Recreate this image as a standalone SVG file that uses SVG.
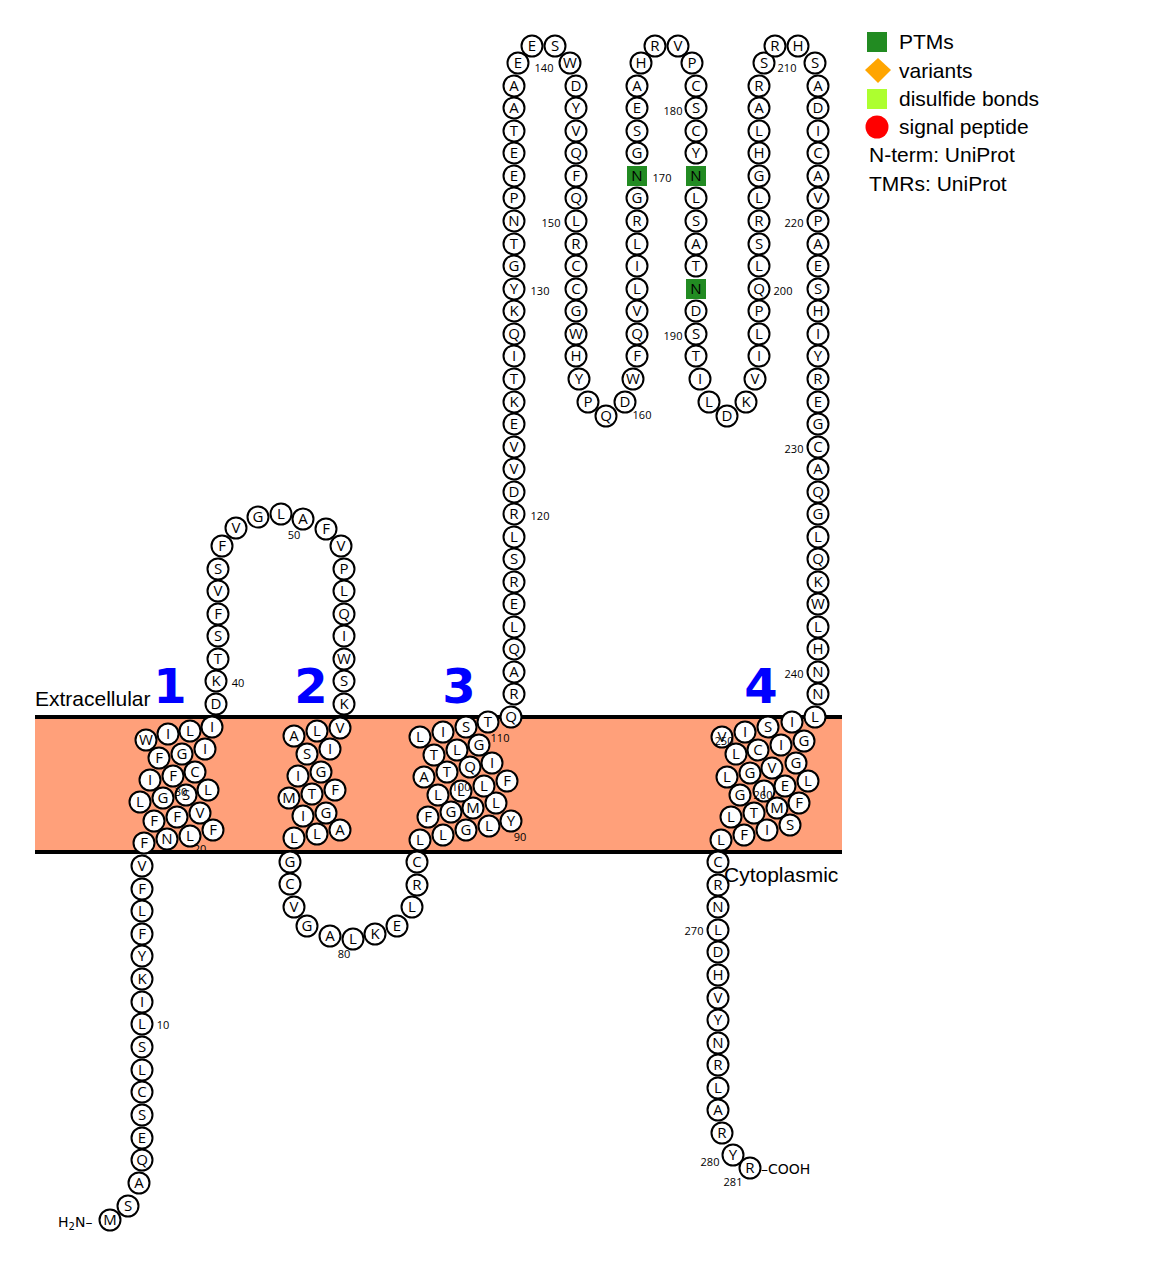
<svg xmlns="http://www.w3.org/2000/svg" width="1174" height="1266" viewBox="0 0 1174 1266">
<style>
.r circle{fill:#fff;stroke:#000;stroke-width:2}
.r rect{fill:#228B22;stroke:none}
.r text{font-family:"Open Sans","DejaVu Sans",sans-serif;font-size:15px;text-anchor:middle}
.n{font-family:"Open Sans","DejaVu Sans",sans-serif;font-size:11px;text-anchor:middle}
.l{font-family:"Liberation Sans",Arial,sans-serif;font-size:21px}
.tm{font-family:"DejaVu Sans",sans-serif;font-size:48px;font-weight:bold;fill:#0000FF;text-anchor:middle}
.t{font-family:"DejaVu Sans",sans-serif;font-size:14px}
</style>
<rect width="1174" height="1266" fill="#fff"/>
<g id="membrane">
<rect x="35" y="717" width="807" height="135" fill="#FFA07A"/>
<line x1="35" y1="717" x2="842" y2="717" stroke="#000" stroke-width="4"/>
<line x1="35" y1="852" x2="842" y2="852" stroke="#000" stroke-width="4"/>
</g>
<g id="connectors"></g>
<g id="residues" class="r">
<g id="r1"><circle cx="110" cy="1220" r="10.5"/><text x="110" y="1225">M</text></g>
<g id="r2"><circle cx="128" cy="1206" r="10.5"/><text x="128" y="1211">S</text></g>
<g id="r3"><circle cx="139" cy="1183" r="10.5"/><text x="139" y="1188">A</text></g>
<g id="r4"><circle cx="142" cy="1160" r="10.5"/><text x="142" y="1165">Q</text></g>
<g id="r5"><circle cx="142" cy="1138" r="10.5"/><text x="142" y="1143">E</text></g>
<g id="r6"><circle cx="142" cy="1115" r="10.5"/><text x="142" y="1120">S</text></g>
<g id="r7"><circle cx="142" cy="1092" r="10.5"/><text x="142" y="1097">C</text></g>
<g id="r8"><circle cx="142" cy="1070" r="10.5"/><text x="142" y="1075">L</text></g>
<g id="r9"><circle cx="142" cy="1047" r="10.5"/><text x="142" y="1052">S</text></g>
<g id="r10"><circle cx="142" cy="1024" r="10.5"/><text x="142" y="1029">L</text></g>
<g id="r11"><circle cx="142" cy="1002" r="10.5"/><text x="142" y="1007">I</text></g>
<g id="r12"><circle cx="142" cy="979" r="10.5"/><text x="142" y="984">K</text></g>
<g id="r13"><circle cx="142" cy="956" r="10.5"/><text x="142" y="961">Y</text></g>
<g id="r14"><circle cx="142" cy="934" r="10.5"/><text x="142" y="939">F</text></g>
<g id="r15"><circle cx="142" cy="911" r="10.5"/><text x="142" y="916">L</text></g>
<g id="r16"><circle cx="142" cy="889" r="10.5"/><text x="142" y="894">F</text></g>
<g id="r17"><circle cx="142" cy="866" r="10.5"/><text x="142" y="871">V</text></g>
<g id="r18"><circle cx="144" cy="843" r="10.5"/><text x="144" y="848">F</text></g>
<g id="r19"><circle cx="167" cy="839" r="10.5"/><text x="167" y="844">N</text></g>
<g id="r20"><circle cx="190" cy="836" r="10.5"/><text x="190" y="841">L</text></g>
<g id="r21"><circle cx="213" cy="830" r="10.5"/><text x="213" y="835">F</text></g>
<g id="r22"><circle cx="200" cy="813" r="10.5"/><text x="200" y="818">V</text></g>
<g id="r23"><circle cx="177" cy="817" r="10.5"/><text x="177" y="822">F</text></g>
<g id="r24"><circle cx="154" cy="821" r="10.5"/><text x="154" y="826">F</text></g>
<g id="r25"><circle cx="140" cy="802" r="10.5"/><text x="140" y="807">L</text></g>
<g id="r26"><circle cx="163" cy="798" r="10.5"/><text x="163" y="803">G</text></g>
<g id="r27"><circle cx="186" cy="795" r="10.5"/><text x="186" y="800">S</text></g>
<g id="r28"><circle cx="208" cy="790" r="10.5"/><text x="208" y="795">L</text></g>
<g id="r29"><circle cx="150" cy="780" r="10.5"/><text x="150" y="785">I</text></g>
<g id="r30"><circle cx="173" cy="776" r="10.5"/><text x="173" y="781">F</text></g>
<g id="r31"><circle cx="195" cy="772" r="10.5"/><text x="195" y="777">C</text></g>
<g id="r32"><circle cx="159" cy="758" r="10.5"/><text x="159" y="763">F</text></g>
<g id="r33"><circle cx="182" cy="754" r="10.5"/><text x="182" y="759">G</text></g>
<g id="r34"><circle cx="205" cy="749" r="10.5"/><text x="205" y="754">I</text></g>
<g id="r35"><circle cx="146" cy="740" r="10.5"/><text x="146" y="745">W</text></g>
<g id="r36"><circle cx="168" cy="734" r="10.5"/><text x="168" y="739">I</text></g>
<g id="r37"><circle cx="190" cy="731" r="10.5"/><text x="190" y="736">L</text></g>
<g id="r38"><circle cx="212" cy="727" r="10.5"/><text x="212" y="732">I</text></g>
<g id="r39"><circle cx="216" cy="704" r="10.5"/><text x="216" y="709">D</text></g>
<g id="r40"><circle cx="216" cy="681" r="10.5"/><text x="216" y="686">K</text></g>
<g id="r41"><circle cx="218" cy="659" r="10.5"/><text x="218" y="664">T</text></g>
<g id="r42"><circle cx="218" cy="636" r="10.5"/><text x="218" y="641">S</text></g>
<g id="r43"><circle cx="218" cy="614" r="10.5"/><text x="218" y="619">F</text></g>
<g id="r44"><circle cx="218" cy="591" r="10.5"/><text x="218" y="596">V</text></g>
<g id="r45"><circle cx="218" cy="569" r="10.5"/><text x="218" y="574">S</text></g>
<g id="r46"><circle cx="222" cy="546" r="10.5"/><text x="222" y="551">F</text></g>
<g id="r47"><circle cx="236" cy="528" r="10.5"/><text x="236" y="533">V</text></g>
<g id="r48"><circle cx="258" cy="517" r="10.5"/><text x="258" y="522">G</text></g>
<g id="r49"><circle cx="281" cy="514" r="10.5"/><text x="281" y="519">L</text></g>
<g id="r50"><circle cx="303" cy="519" r="10.5"/><text x="303" y="524">A</text></g>
<g id="r51"><circle cx="326" cy="529" r="10.5"/><text x="326" y="534">F</text></g>
<g id="r52"><circle cx="341" cy="546" r="10.5"/><text x="341" y="551">V</text></g>
<g id="r53"><circle cx="344" cy="569" r="10.5"/><text x="344" y="574">P</text></g>
<g id="r54"><circle cx="344" cy="591" r="10.5"/><text x="344" y="596">L</text></g>
<g id="r55"><circle cx="344" cy="614" r="10.5"/><text x="344" y="619">Q</text></g>
<g id="r56"><circle cx="344" cy="636" r="10.5"/><text x="344" y="641">I</text></g>
<g id="r57"><circle cx="344" cy="659" r="10.5"/><text x="344" y="664">W</text></g>
<g id="r58"><circle cx="344" cy="681" r="10.5"/><text x="344" y="686">S</text></g>
<g id="r59"><circle cx="344" cy="704" r="10.5"/><text x="344" y="709">K</text></g>
<g id="r60"><circle cx="340" cy="728" r="10.5"/><text x="340" y="733">V</text></g>
<g id="r61"><circle cx="317" cy="731" r="10.5"/><text x="317" y="736">L</text></g>
<g id="r62"><circle cx="294" cy="736" r="10.5"/><text x="294" y="741">A</text></g>
<g id="r63"><circle cx="307" cy="754" r="10.5"/><text x="307" y="759">S</text></g>
<g id="r64"><circle cx="330" cy="749" r="10.5"/><text x="330" y="754">I</text></g>
<g id="r65"><circle cx="298" cy="776" r="10.5"/><text x="298" y="781">I</text></g>
<g id="r66"><circle cx="321" cy="772" r="10.5"/><text x="321" y="777">G</text></g>
<g id="r67"><circle cx="289" cy="798" r="10.5"/><text x="289" y="803">M</text></g>
<g id="r68"><circle cx="312" cy="794" r="10.5"/><text x="312" y="799">T</text></g>
<g id="r69"><circle cx="335" cy="790" r="10.5"/><text x="335" y="795">F</text></g>
<g id="r70"><circle cx="303" cy="816" r="10.5"/><text x="303" y="821">I</text></g>
<g id="r71"><circle cx="326" cy="813" r="10.5"/><text x="326" y="818">G</text></g>
<g id="r72"><circle cx="294" cy="838" r="10.5"/><text x="294" y="843">L</text></g>
<g id="r73"><circle cx="317" cy="834" r="10.5"/><text x="317" y="839">L</text></g>
<g id="r74"><circle cx="340" cy="830" r="10.5"/><text x="340" y="835">A</text></g>
<g id="r75"><circle cx="290" cy="862" r="10.5"/><text x="290" y="867">G</text></g>
<g id="r76"><circle cx="290" cy="884" r="10.5"/><text x="290" y="889">C</text></g>
<g id="r77"><circle cx="294" cy="907" r="10.5"/><text x="294" y="912">V</text></g>
<g id="r78"><circle cx="307" cy="926" r="10.5"/><text x="307" y="931">G</text></g>
<g id="r79"><circle cx="330" cy="936" r="10.5"/><text x="330" y="941">A</text></g>
<g id="r80"><circle cx="353" cy="939" r="10.5"/><text x="353" y="944">L</text></g>
<g id="r81"><circle cx="375" cy="934" r="10.5"/><text x="375" y="939">K</text></g>
<g id="r82"><circle cx="397" cy="926" r="10.5"/><text x="397" y="931">E</text></g>
<g id="r83"><circle cx="412" cy="907" r="10.5"/><text x="412" y="912">L</text></g>
<g id="r84"><circle cx="417" cy="885" r="10.5"/><text x="417" y="890">R</text></g>
<g id="r85"><circle cx="417" cy="862" r="10.5"/><text x="417" y="867">C</text></g>
<g id="r86"><circle cx="420" cy="840" r="10.5"/><text x="420" y="845">L</text></g>
<g id="r87"><circle cx="443" cy="835" r="10.5"/><text x="443" y="840">L</text></g>
<g id="r88"><circle cx="466" cy="830" r="10.5"/><text x="466" y="835">G</text></g>
<g id="r89"><circle cx="489" cy="826" r="10.5"/><text x="489" y="831">L</text></g>
<g id="r90"><circle cx="511" cy="821" r="10.5"/><text x="511" y="826">Y</text></g>
<g id="r91"><circle cx="428" cy="817" r="10.5"/><text x="428" y="822">F</text></g>
<g id="r92"><circle cx="451" cy="812" r="10.5"/><text x="451" y="817">G</text></g>
<g id="r93"><circle cx="473" cy="808" r="10.5"/><text x="473" y="813">M</text></g>
<g id="r94"><circle cx="496" cy="803" r="10.5"/><text x="496" y="808">L</text></g>
<g id="r95"><circle cx="438" cy="795" r="10.5"/><text x="438" y="800">L</text></g>
<g id="r96"><circle cx="461" cy="791" r="10.5"/><text x="461" y="796">L</text></g>
<g id="r97"><circle cx="484" cy="786" r="10.5"/><text x="484" y="791">L</text></g>
<g id="r98"><circle cx="507" cy="781" r="10.5"/><text x="507" y="786">F</text></g>
<g id="r99"><circle cx="424" cy="777" r="10.5"/><text x="424" y="782">A</text></g>
<g id="r100"><circle cx="447" cy="772" r="10.5"/><text x="447" y="777">T</text></g>
<g id="r101"><circle cx="470" cy="767" r="10.5"/><text x="470" y="772">Q</text></g>
<g id="r102"><circle cx="492" cy="763" r="10.5"/><text x="492" y="768">I</text></g>
<g id="r103"><circle cx="434" cy="755" r="10.5"/><text x="434" y="760">T</text></g>
<g id="r104"><circle cx="457" cy="750" r="10.5"/><text x="457" y="755">L</text></g>
<g id="r105"><circle cx="479" cy="745" r="10.5"/><text x="479" y="750">G</text></g>
<g id="r106"><circle cx="420" cy="737" r="10.5"/><text x="420" y="742">L</text></g>
<g id="r107"><circle cx="443" cy="732" r="10.5"/><text x="443" y="737">I</text></g>
<g id="r108"><circle cx="466" cy="727" r="10.5"/><text x="466" y="732">S</text></g>
<g id="r109"><circle cx="488" cy="722" r="10.5"/><text x="488" y="727">T</text></g>
<g id="r110"><circle cx="511" cy="717" r="10.5"/><text x="511" y="722">Q</text></g>
<g id="r111"><circle cx="514" cy="694" r="10.5"/><text x="514" y="699">R</text></g>
<g id="r112"><circle cx="514" cy="672" r="10.5"/><text x="514" y="677">A</text></g>
<g id="r113"><circle cx="514" cy="649" r="10.5"/><text x="514" y="654">Q</text></g>
<g id="r114"><circle cx="514" cy="627" r="10.5"/><text x="514" y="632">L</text></g>
<g id="r115"><circle cx="514" cy="604" r="10.5"/><text x="514" y="609">E</text></g>
<g id="r116"><circle cx="514" cy="582" r="10.5"/><text x="514" y="587">R</text></g>
<g id="r117"><circle cx="514" cy="559" r="10.5"/><text x="514" y="564">S</text></g>
<g id="r118"><circle cx="514" cy="537" r="10.5"/><text x="514" y="542">L</text></g>
<g id="r119"><circle cx="514" cy="514" r="10.5"/><text x="514" y="519">R</text></g>
<g id="r120"><circle cx="514" cy="492" r="10.5"/><text x="514" y="497">D</text></g>
<g id="r121"><circle cx="514" cy="469" r="10.5"/><text x="514" y="474">V</text></g>
<g id="r122"><circle cx="514" cy="447" r="10.5"/><text x="514" y="452">V</text></g>
<g id="r123"><circle cx="514" cy="424" r="10.5"/><text x="514" y="429">E</text></g>
<g id="r124"><circle cx="514" cy="402" r="10.5"/><text x="514" y="407">K</text></g>
<g id="r125"><circle cx="514" cy="379" r="10.5"/><text x="514" y="384">T</text></g>
<g id="r126"><circle cx="514" cy="356" r="10.5"/><text x="514" y="361">I</text></g>
<g id="r127"><circle cx="514" cy="334" r="10.5"/><text x="514" y="339">Q</text></g>
<g id="r128"><circle cx="514" cy="311" r="10.5"/><text x="514" y="316">K</text></g>
<g id="r129"><circle cx="514" cy="289" r="10.5"/><text x="514" y="294">Y</text></g>
<g id="r130"><circle cx="514" cy="266" r="10.5"/><text x="514" y="271">G</text></g>
<g id="r131"><circle cx="514" cy="244" r="10.5"/><text x="514" y="249">T</text></g>
<g id="r132"><circle cx="514" cy="221" r="10.5"/><text x="514" y="226">N</text></g>
<g id="r133"><circle cx="514" cy="198" r="10.5"/><text x="514" y="203">P</text></g>
<g id="r134"><circle cx="514" cy="176" r="10.5"/><text x="514" y="181">E</text></g>
<g id="r135"><circle cx="514" cy="153" r="10.5"/><text x="514" y="158">E</text></g>
<g id="r136"><circle cx="514" cy="131" r="10.5"/><text x="514" y="136">T</text></g>
<g id="r137"><circle cx="514" cy="108" r="10.5"/><text x="514" y="113">A</text></g>
<g id="r138"><circle cx="514" cy="86" r="10.5"/><text x="514" y="91">A</text></g>
<g id="r139"><circle cx="518" cy="63" r="10.5"/><text x="518" y="68">E</text></g>
<g id="r140"><circle cx="532" cy="46" r="10.5"/><text x="532" y="51">E</text></g>
<g id="r141"><circle cx="555" cy="46" r="10.5"/><text x="555" y="51">S</text></g>
<g id="r142"><circle cx="570" cy="63" r="10.5"/><text x="570" y="68">W</text></g>
<g id="r143"><circle cx="576" cy="86" r="10.5"/><text x="576" y="91">D</text></g>
<g id="r144"><circle cx="576" cy="108" r="10.5"/><text x="576" y="113">Y</text></g>
<g id="r145"><circle cx="576" cy="131" r="10.5"/><text x="576" y="136">V</text></g>
<g id="r146"><circle cx="576" cy="153" r="10.5"/><text x="576" y="158">Q</text></g>
<g id="r147"><circle cx="576" cy="176" r="10.5"/><text x="576" y="181">F</text></g>
<g id="r148"><circle cx="576" cy="198" r="10.5"/><text x="576" y="203">Q</text></g>
<g id="r149"><circle cx="576" cy="221" r="10.5"/><text x="576" y="226">L</text></g>
<g id="r150"><circle cx="576" cy="244" r="10.5"/><text x="576" y="249">R</text></g>
<g id="r151"><circle cx="576" cy="266" r="10.5"/><text x="576" y="271">C</text></g>
<g id="r152"><circle cx="576" cy="289" r="10.5"/><text x="576" y="294">C</text></g>
<g id="r153"><circle cx="576" cy="311" r="10.5"/><text x="576" y="316">G</text></g>
<g id="r154"><circle cx="576" cy="334" r="10.5"/><text x="576" y="339">W</text></g>
<g id="r155"><circle cx="576" cy="356" r="10.5"/><text x="576" y="361">H</text></g>
<g id="r156"><circle cx="579" cy="379" r="10.5"/><text x="579" y="384">Y</text></g>
<g id="r157"><circle cx="588" cy="402" r="10.5"/><text x="588" y="407">P</text></g>
<g id="r158"><circle cx="606" cy="416" r="10.5"/><text x="606" y="421">Q</text></g>
<g id="r159"><circle cx="625" cy="402" r="10.5"/><text x="625" y="407">D</text></g>
<g id="r160"><circle cx="633" cy="379" r="10.5"/><text x="633" y="384">W</text></g>
<g id="r161"><circle cx="637" cy="356" r="10.5"/><text x="637" y="361">F</text></g>
<g id="r162"><circle cx="637" cy="334" r="10.5"/><text x="637" y="339">Q</text></g>
<g id="r163"><circle cx="637" cy="311" r="10.5"/><text x="637" y="316">V</text></g>
<g id="r164"><circle cx="637" cy="289" r="10.5"/><text x="637" y="294">L</text></g>
<g id="r165"><circle cx="637" cy="266" r="10.5"/><text x="637" y="271">I</text></g>
<g id="r166"><circle cx="637" cy="244" r="10.5"/><text x="637" y="249">L</text></g>
<g id="r167"><circle cx="637" cy="221" r="10.5"/><text x="637" y="226">R</text></g>
<g id="r168"><circle cx="637" cy="198" r="10.5"/><text x="637" y="203">G</text></g>
<g id="r169"><rect x="627" y="166" width="20" height="20"/><text x="637" y="181">N</text></g>
<g id="r170"><circle cx="637" cy="153" r="10.5"/><text x="637" y="158">G</text></g>
<g id="r171"><circle cx="637" cy="131" r="10.5"/><text x="637" y="136">S</text></g>
<g id="r172"><circle cx="637" cy="108" r="10.5"/><text x="637" y="113">E</text></g>
<g id="r173"><circle cx="637" cy="86" r="10.5"/><text x="637" y="91">A</text></g>
<g id="r174"><circle cx="641" cy="63" r="10.5"/><text x="641" y="68">H</text></g>
<g id="r175"><circle cx="655" cy="46" r="10.5"/><text x="655" y="51">R</text></g>
<g id="r176"><circle cx="678" cy="46" r="10.5"/><text x="678" y="51">V</text></g>
<g id="r177"><circle cx="692" cy="63" r="10.5"/><text x="692" y="68">P</text></g>
<g id="r178"><circle cx="696" cy="86" r="10.5"/><text x="696" y="91">C</text></g>
<g id="r179"><circle cx="696" cy="108" r="10.5"/><text x="696" y="113">S</text></g>
<g id="r180"><circle cx="696" cy="131" r="10.5"/><text x="696" y="136">C</text></g>
<g id="r181"><circle cx="696" cy="153" r="10.5"/><text x="696" y="158">Y</text></g>
<g id="r182"><rect x="686" y="166" width="20" height="20"/><text x="696" y="181">N</text></g>
<g id="r183"><circle cx="696" cy="198" r="10.5"/><text x="696" y="203">L</text></g>
<g id="r184"><circle cx="696" cy="221" r="10.5"/><text x="696" y="226">S</text></g>
<g id="r185"><circle cx="696" cy="244" r="10.5"/><text x="696" y="249">A</text></g>
<g id="r186"><circle cx="696" cy="266" r="10.5"/><text x="696" y="271">T</text></g>
<g id="r187"><rect x="686" y="279" width="20" height="20"/><text x="696" y="294">N</text></g>
<g id="r188"><circle cx="696" cy="311" r="10.5"/><text x="696" y="316">D</text></g>
<g id="r189"><circle cx="696" cy="334" r="10.5"/><text x="696" y="339">S</text></g>
<g id="r190"><circle cx="696" cy="356" r="10.5"/><text x="696" y="361">T</text></g>
<g id="r191"><circle cx="700" cy="379" r="10.5"/><text x="700" y="384">I</text></g>
<g id="r192"><circle cx="709" cy="402" r="10.5"/><text x="709" y="407">L</text></g>
<g id="r193"><circle cx="727" cy="416" r="10.5"/><text x="727" y="421">D</text></g>
<g id="r194"><circle cx="746" cy="402" r="10.5"/><text x="746" y="407">K</text></g>
<g id="r195"><circle cx="755" cy="379" r="10.5"/><text x="755" y="384">V</text></g>
<g id="r196"><circle cx="759" cy="356" r="10.5"/><text x="759" y="361">I</text></g>
<g id="r197"><circle cx="759" cy="334" r="10.5"/><text x="759" y="339">L</text></g>
<g id="r198"><circle cx="759" cy="311" r="10.5"/><text x="759" y="316">P</text></g>
<g id="r199"><circle cx="759" cy="289" r="10.5"/><text x="759" y="294">Q</text></g>
<g id="r200"><circle cx="759" cy="266" r="10.5"/><text x="759" y="271">L</text></g>
<g id="r201"><circle cx="759" cy="244" r="10.5"/><text x="759" y="249">S</text></g>
<g id="r202"><circle cx="759" cy="221" r="10.5"/><text x="759" y="226">R</text></g>
<g id="r203"><circle cx="759" cy="198" r="10.5"/><text x="759" y="203">L</text></g>
<g id="r204"><circle cx="759" cy="176" r="10.5"/><text x="759" y="181">G</text></g>
<g id="r205"><circle cx="759" cy="153" r="10.5"/><text x="759" y="158">H</text></g>
<g id="r206"><circle cx="759" cy="131" r="10.5"/><text x="759" y="136">L</text></g>
<g id="r207"><circle cx="759" cy="108" r="10.5"/><text x="759" y="113">A</text></g>
<g id="r208"><circle cx="759" cy="86" r="10.5"/><text x="759" y="91">R</text></g>
<g id="r209"><circle cx="764" cy="63" r="10.5"/><text x="764" y="68">S</text></g>
<g id="r210"><circle cx="775" cy="46" r="10.5"/><text x="775" y="51">R</text></g>
<g id="r211"><circle cx="798" cy="46" r="10.5"/><text x="798" y="51">H</text></g>
<g id="r212"><circle cx="815" cy="63" r="10.5"/><text x="815" y="68">S</text></g>
<g id="r213"><circle cx="818" cy="86" r="10.5"/><text x="818" y="91">A</text></g>
<g id="r214"><circle cx="818" cy="108" r="10.5"/><text x="818" y="113">D</text></g>
<g id="r215"><circle cx="818" cy="131" r="10.5"/><text x="818" y="136">I</text></g>
<g id="r216"><circle cx="818" cy="153" r="10.5"/><text x="818" y="158">C</text></g>
<g id="r217"><circle cx="818" cy="176" r="10.5"/><text x="818" y="181">A</text></g>
<g id="r218"><circle cx="818" cy="198" r="10.5"/><text x="818" y="203">V</text></g>
<g id="r219"><circle cx="818" cy="221" r="10.5"/><text x="818" y="226">P</text></g>
<g id="r220"><circle cx="818" cy="244" r="10.5"/><text x="818" y="249">A</text></g>
<g id="r221"><circle cx="818" cy="266" r="10.5"/><text x="818" y="271">E</text></g>
<g id="r222"><circle cx="818" cy="289" r="10.5"/><text x="818" y="294">S</text></g>
<g id="r223"><circle cx="818" cy="311" r="10.5"/><text x="818" y="316">H</text></g>
<g id="r224"><circle cx="818" cy="334" r="10.5"/><text x="818" y="339">I</text></g>
<g id="r225"><circle cx="818" cy="356" r="10.5"/><text x="818" y="361">Y</text></g>
<g id="r226"><circle cx="818" cy="379" r="10.5"/><text x="818" y="384">R</text></g>
<g id="r227"><circle cx="818" cy="402" r="10.5"/><text x="818" y="407">E</text></g>
<g id="r228"><circle cx="818" cy="424" r="10.5"/><text x="818" y="429">G</text></g>
<g id="r229"><circle cx="818" cy="447" r="10.5"/><text x="818" y="452">C</text></g>
<g id="r230"><circle cx="818" cy="469" r="10.5"/><text x="818" y="474">A</text></g>
<g id="r231"><circle cx="818" cy="492" r="10.5"/><text x="818" y="497">Q</text></g>
<g id="r232"><circle cx="818" cy="514" r="10.5"/><text x="818" y="519">G</text></g>
<g id="r233"><circle cx="818" cy="537" r="10.5"/><text x="818" y="542">L</text></g>
<g id="r234"><circle cx="818" cy="559" r="10.5"/><text x="818" y="564">Q</text></g>
<g id="r235"><circle cx="818" cy="582" r="10.5"/><text x="818" y="587">K</text></g>
<g id="r236"><circle cx="818" cy="604" r="10.5"/><text x="818" y="609">W</text></g>
<g id="r237"><circle cx="818" cy="627" r="10.5"/><text x="818" y="632">L</text></g>
<g id="r238"><circle cx="818" cy="649" r="10.5"/><text x="818" y="654">H</text></g>
<g id="r239"><circle cx="818" cy="672" r="10.5"/><text x="818" y="677">N</text></g>
<g id="r240"><circle cx="818" cy="694" r="10.5"/><text x="818" y="699">N</text></g>
<g id="r241"><circle cx="815" cy="717" r="10.5"/><text x="815" y="722">L</text></g>
<g id="r242"><circle cx="792" cy="722" r="10.5"/><text x="792" y="727">I</text></g>
<g id="r243"><circle cx="768" cy="727" r="10.5"/><text x="768" y="732">S</text></g>
<g id="r244"><circle cx="745" cy="732" r="10.5"/><text x="745" y="737">I</text></g>
<g id="r245"><circle cx="722" cy="737" r="10.5"/><text x="722" y="742">V</text></g>
<g id="r246"><circle cx="804" cy="741" r="10.5"/><text x="804" y="746">G</text></g>
<g id="r247"><circle cx="781" cy="745" r="10.5"/><text x="781" y="750">I</text></g>
<g id="r248"><circle cx="758" cy="750" r="10.5"/><text x="758" y="755">C</text></g>
<g id="r249"><circle cx="736" cy="754" r="10.5"/><text x="736" y="759">L</text></g>
<g id="r250"><circle cx="796" cy="763" r="10.5"/><text x="796" y="768">G</text></g>
<g id="r251"><circle cx="772" cy="768" r="10.5"/><text x="772" y="773">V</text></g>
<g id="r252"><circle cx="750" cy="773" r="10.5"/><text x="750" y="778">G</text></g>
<g id="r253"><circle cx="727" cy="777" r="10.5"/><text x="727" y="782">L</text></g>
<g id="r254"><circle cx="808" cy="781" r="10.5"/><text x="808" y="786">L</text></g>
<g id="r255"><circle cx="785" cy="786" r="10.5"/><text x="785" y="791">E</text></g>
<g id="r256"><circle cx="764" cy="791" r="10.5"/><text x="764" y="796">I</text></g>
<g id="r257"><circle cx="740" cy="795" r="10.5"/><text x="740" y="800">G</text></g>
<g id="r258"><circle cx="799" cy="803" r="10.5"/><text x="799" y="808">F</text></g>
<g id="r259"><circle cx="777" cy="808" r="10.5"/><text x="777" y="813">M</text></g>
<g id="r260"><circle cx="754" cy="813" r="10.5"/><text x="754" y="818">T</text></g>
<g id="r261"><circle cx="731" cy="817" r="10.5"/><text x="731" y="822">L</text></g>
<g id="r262"><circle cx="790" cy="825" r="10.5"/><text x="790" y="830">S</text></g>
<g id="r263"><circle cx="767" cy="830" r="10.5"/><text x="767" y="835">I</text></g>
<g id="r264"><circle cx="744" cy="835" r="10.5"/><text x="744" y="840">F</text></g>
<g id="r265"><circle cx="721" cy="840" r="10.5"/><text x="721" y="845">L</text></g>
<g id="r266"><circle cx="718" cy="862" r="10.5"/><text x="718" y="867">C</text></g>
<g id="r267"><circle cx="718" cy="885" r="10.5"/><text x="718" y="890">R</text></g>
<g id="r268"><circle cx="718" cy="907" r="10.5"/><text x="718" y="912">N</text></g>
<g id="r269"><circle cx="718" cy="930" r="10.5"/><text x="718" y="935">L</text></g>
<g id="r270"><circle cx="718" cy="952" r="10.5"/><text x="718" y="957">D</text></g>
<g id="r271"><circle cx="718" cy="975" r="10.5"/><text x="718" y="980">H</text></g>
<g id="r272"><circle cx="718" cy="998" r="10.5"/><text x="718" y="1003">V</text></g>
<g id="r273"><circle cx="718" cy="1020" r="10.5"/><text x="718" y="1025">Y</text></g>
<g id="r274"><circle cx="718" cy="1043" r="10.5"/><text x="718" y="1048">N</text></g>
<g id="r275"><circle cx="718" cy="1065" r="10.5"/><text x="718" y="1070">R</text></g>
<g id="r276"><circle cx="718" cy="1088" r="10.5"/><text x="718" y="1093">L</text></g>
<g id="r277"><circle cx="718" cy="1110" r="10.5"/><text x="718" y="1115">A</text></g>
<g id="r278"><circle cx="722" cy="1133" r="10.5"/><text x="722" y="1138">R</text></g>
<g id="r279"><circle cx="733" cy="1155" r="10.5"/><text x="733" y="1160">Y</text></g>
<g id="r280"><circle cx="750" cy="1168" r="10.5"/><text x="750" y="1173">R</text></g>
</g>
<g id="numbers">
<text class="n" x="163" y="1029">10</text>
<text class="n" x="200" y="853">20</text>
<text class="n" x="181" y="796">30</text>
<text class="n" x="238" y="687">40</text>
<text class="n" x="294" y="539">50</text>
<text class="n" x="344" y="958">80</text>
<text class="n" x="520" y="841">90</text>
<text class="n" x="461" y="791">100</text>
<text class="n" x="500" y="742">110</text>
<text class="n" x="540" y="520">120</text>
<text class="n" x="540" y="295">130</text>
<text class="n" x="544" y="72">140</text>
<text class="n" x="551" y="227">150</text>
<text class="n" x="642" y="419">160</text>
<text class="n" x="662" y="182">170</text>
<text class="n" x="673" y="115">180</text>
<text class="n" x="673" y="340">190</text>
<text class="n" x="783" y="295">200</text>
<text class="n" x="787" y="72">210</text>
<text class="n" x="794" y="227">220</text>
<text class="n" x="794" y="453">230</text>
<text class="n" x="794" y="678">240</text>
<text class="n" x="724" y="745">250</text>
<text class="n" x="763" y="799">260</text>
<text class="n" x="694" y="935">270</text>
<text class="n" x="710" y="1166">280</text>
<text class="n" x="733" y="1186">281</text>
</g>
<g id="termini">
<text class="t" x="58" y="1227">H<tspan font-size="10" dy="3">2</tspan><tspan dy="-3">N–</tspan></text>
<text class="t" x="761" y="1174">–COOH</text>
</g>
<g id="labels">
<text class="tm" x="170" y="703">1</text>
<text class="tm" x="311" y="703">2</text>
<text class="tm" x="459" y="703">3</text>
<text class="tm" x="761" y="703">4</text>
<text class="l" x="35" y="706">Extracellular</text>
<text class="l" x="724" y="882">Cytoplasmic</text>
</g>
<g id="legend">
<rect x="867" y="32" width="20" height="20" fill="#228B22"/>
<polygon points="878,58 891,70 878,83 865,70" fill="#FFA500"/>
<rect x="867" y="89" width="20" height="20" fill="#ADFF2F"/>
<circle cx="877" cy="127" r="11.5" fill="#FF0000"/>
<text class="l" x="899" y="49">PTMs</text>
<text class="l" x="899" y="78">variants</text>
<text class="l" x="899" y="106">disulfide bonds</text>
<text class="l" x="899" y="134">signal peptide</text>
<text class="l" x="869" y="162">N-term: UniProt</text>
<text class="l" x="869" y="191">TMRs: UniProt</text>
</g>
</svg>
